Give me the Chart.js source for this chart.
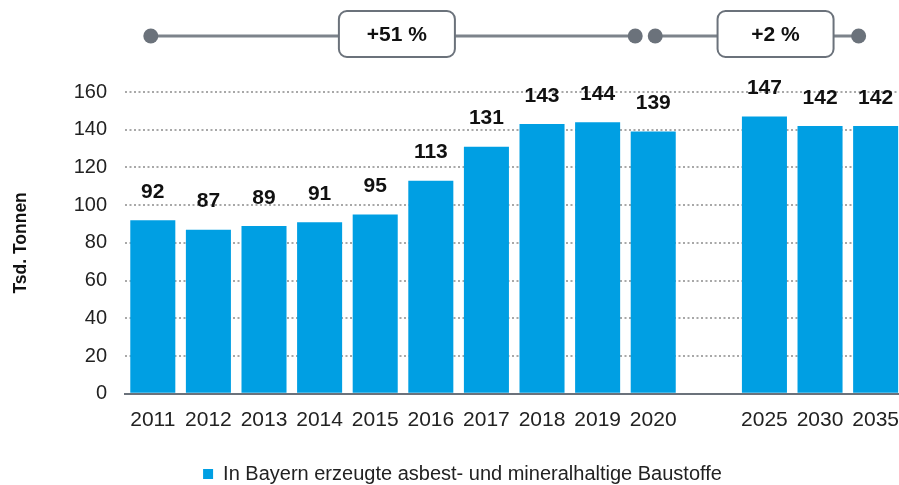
<!DOCTYPE html>
<html>
<head>
<meta charset="utf-8">
<script src="https://cdn.jsdelivr.net/npm/chart.js@4.4.1/dist/chart.umd.min.js"></script>
<style>
  html, body { margin: 0; padding: 0; background: #fff; overflow: hidden; }
  #wrap { position: relative; width: 913px; height: 485px; }
</style>
</head>
<body>
<div id="wrap"><canvas id="c"></canvas></div>
<script>
// ---- data ----
const categories = ['2011','2012','2013','2014','2015','2016','2017','2018','2019','2020','','2025','2030','2035'];
const values = [92, 87, 89, 91, 95, 113, 131, 143, 144, 139, null, 147, 142, 142];
const seriesName = 'In Bayern erzeugte asbest- und mineralhaltige Baustoffe';
const yTicks = [0, 20, 40, 60, 80, 100, 120, 140, 160];
const axisTitle = 'Tsd. Tonnen';
const changeLabels = ['+51 %', '+2 %'];

const FONT = "'Liberation Sans', Arial, sans-serif";
const BLUE = '#009FE3';
const GREY = '#6B727B';

const valueLabels = {
  id: 'valueLabels',
  afterDatasetsDraw(chart) {
    const ctx = chart.ctx;
    const meta = chart.getDatasetMeta(0);
    ctx.save();
    ctx.font = 'bold 21px ' + FONT;
    ctx.fillStyle = '#111';
    ctx.textAlign = 'center';
    ctx.textBaseline = 'middle';
    meta.data.forEach((bar, i) => {
      const v = values[i];
      if (v === null || v === undefined) return;
      ctx.fillText(String(v), bar.x, bar.y - 28);
    });
    ctx.restore();
  }
};

const changeAnno = {
  id: 'changeAnno',
  afterDraw(chart) {
    const ctx = chart.ctx;
    const xs = chart.scales.x;
    const y = 36;
    const segs = [
      {a: xs.getPixelForValue(0) - 2, b: xs.getPixelForValue(9) - 18, c: xs.getPixelForValue(4.39), t: changeLabels[0]},
      {a: xs.getPixelForValue(9) + 2, b: xs.getPixelForValue(13) - 17, c: xs.getPixelForValue(11.2), t: changeLabels[1]}
    ];
    ctx.save();
    segs.forEach(s => {
      ctx.strokeStyle = '#7D838B';
      ctx.lineWidth = 3;
      ctx.beginPath();
      ctx.moveTo(s.a, y);
      ctx.lineTo(s.b, y);
      ctx.stroke();
      ctx.fillStyle = GREY;
      [s.a, s.b].forEach(px => {
        ctx.beginPath();
        ctx.arc(px, y, 7.5, 0, Math.PI * 2);
        ctx.fill();
      });
      const w = 116, h = 46, r = 8;
      const bx = s.c - w / 2, by = 11;
      ctx.beginPath();
      ctx.roundRect(bx, by, w, h, r);
      ctx.fillStyle = '#fff';
      ctx.fill();
      ctx.lineWidth = 2;
      ctx.strokeStyle = GREY;
      ctx.stroke();
      ctx.fillStyle = '#111';
      ctx.font = 'bold 21px ' + FONT;
      ctx.textAlign = 'center';
      ctx.textBaseline = 'middle';
      ctx.fillText(s.t, s.c, by + h / 2 + 1);
    });
    ctx.restore();
  }
};

const legendShift = {
  id: 'legendShift',
  afterLayout(chart) {
    const lg = chart.legend;
    if (lg) { lg.left += 6; lg.right += 6; lg.top += 9; lg.bottom += 9; }
  }
};

new Chart(document.getElementById('c'), {
  type: 'bar',
  data: {
    labels: categories,
    datasets: [{
      label: seriesName,
      data: values,
      backgroundColor: BLUE,
      borderWidth: 0,
      barPercentage: 0.81,
      categoryPercentage: 1.0
    }]
  },
  options: {
    responsive: true,
    maintainAspectRatio: false,
    animation: false,
    layout: { padding: { top: 92, left: 0, right: 0, bottom: 0 } },
    plugins: {
      tooltip: { enabled: false },
      legend: {
        position: 'bottom',
        labels: {
          boxWidth: 10, boxHeight: 10, padding: 8,
          color: '#222',
          font: { family: FONT, size: 20 }
        }
      }
    },
    scales: {
      x: {
        grid: { display: false, drawTicks: false },
        border: { display: true, color: GREY, width: 2 },
        ticks: { color: '#222', font: { family: FONT, size: 21 }, padding: 14, maxRotation: 0, autoSkip: false }
      },
      y: {
        min: 0, max: 160,
        afterFit(scale) { scale.width = 125; },
        afterBuildTicks(scale) { scale.ticks = yTicks.map(v => ({ value: v })); },
        border: { display: false, dash: [2, 2.5] },
        grid: {
          drawTicks: false,
          color: ctx => (ctx.tick && ctx.tick.value === 0) ? 'rgba(0,0,0,0)' : '#A8A8A8',
          lineWidth: 2
        },
        ticks: { color: '#222', font: { family: FONT, size: 20 }, padding: 18 },
        title: {
          display: true, text: axisTitle, color: '#111',
          font: { family: FONT, size: 17.5, weight: 'bold' },
          padding: { top: 11, bottom: 0 }
        }
      }
    }
  },
  plugins: [valueLabels, changeAnno, legendShift]
});
</script>
</body>
</html>
